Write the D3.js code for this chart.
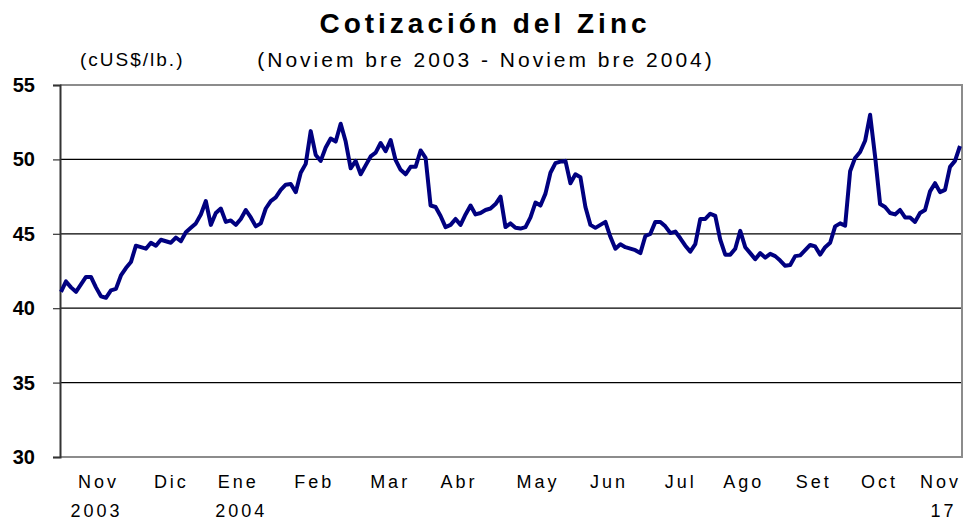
<!DOCTYPE html>
<html>
<head>
<meta charset="utf-8">
<script src="https://cdn.jsdelivr.net/npm/d3@7"></script>
<style>
  body { margin: 0; background: #fff; }
  text { font-family: "Liberation Sans", Arial, sans-serif; fill: #000; }
</style>
</head>
<body>
<svg id="chart" width="966" height="520"></svg>
<script>
// Zinc price, cUS$/lb, Nov 2003 - Nov 17 2004
var zinc = [
  41.1, 41.8, 41.4, 41.1, 41.6, 42.1, 42.1, 41.4, 40.8, 40.7,
  41.2, 41.3, 42.2, 42.7, 43.1, 44.2, 44.1, 44.0, 44.4, 44.2,
  44.6, 44.5, 44.4, 44.75, 44.5, 45.1, 45.4, 45.7, 46.3, 47.2,
  45.6, 46.4, 46.7, 45.8, 45.9, 45.6, 46.0, 46.6, 46.1, 45.5,
  45.7, 46.7, 47.2, 47.45, 47.95, 48.3, 48.35, 47.8, 49.1, 49.7,
  51.9, 50.3, 49.9, 50.8, 51.4, 51.2, 52.4, 51.2, 49.4, 49.9,
  49.0, 49.6, 50.2, 50.45, 51.1, 50.55, 51.3, 49.95, 49.3, 49.0,
  49.5, 49.5, 50.6, 50.1, 46.9, 46.8, 46.2, 45.45, 45.6, 46.0,
  45.6, 46.3, 46.9, 46.3, 46.4, 46.6, 46.7, 47.0, 47.5, 45.45,
  45.7, 45.4, 45.35, 45.45, 46.1, 47.1, 46.9, 47.7, 49.1, 49.75,
  49.85, 49.9, 48.4, 49.0, 48.8, 46.8, 45.6, 45.4, 45.6, 45.8,
  44.8, 44.0, 44.3, 44.1, 44.0, 43.9, 43.7, 44.85, 45.0, 45.8,
  45.8, 45.5, 45.05, 45.15, 44.7, 44.2, 43.8, 44.3, 46.0, 46.0,
  46.35, 46.2, 44.6, 43.6, 43.6, 44.0, 45.2, 44.1, 43.7, 43.3,
  43.7, 43.4, 43.65, 43.5, 43.2, 42.85, 42.9, 43.5, 43.55, 43.9,
  44.25, 44.15, 43.6, 44.1, 44.4, 45.5, 45.7, 45.55, 49.2, 50.1,
  50.5, 51.25, 53.0, 50.2, 47.0, 46.8, 46.4, 46.3, 46.6, 46.1,
  46.1, 45.8, 46.4, 46.6, 47.85, 48.4, 47.8, 47.95, 49.5, 49.9,
  50.9
];

// month labels and where they sit along the series (sample index)
var months   = ["Nov", "Dic", "Ene", "Feb", "Mar", "Abr", "May", "Jun", "Jul", "Ago", "Set", "Oct", "Nov"];
var monthPos = [7.2, 21.8, 35.2, 50.4, 65.6, 79.4, 95.2, 109.4, 123.8, 136.4, 150.4, 163.6, 175.8];
var subLabels = ["2003", "2004", "17"];
var subPos    = [6.8, 35.8, 176.4];
var yTicks = [30, 35, 40, 45, 50, 55];

(function() {
  var svg = d3.select("#chart"),
      mLeft = 60, mRight = 962, mTop = 85, mBottom = 457;

  var x = d3.scaleLinear().domain([0, zinc.length - 1]).range([61, 960]);
  var y = d3.scaleLinear().domain([30, 55]).range([mBottom, mTop]);

  // title block
  svg.append("text")
    .attr("x", 485).attr("y", 33)
    .attr("text-anchor", "middle")
    .style("font-size", "28px").style("font-weight", "bold")
    .style("letter-spacing", "4px")
    .text("Cotización del Zinc");

  svg.append("text")
    .attr("x", 486).attr("y", 67)
    .attr("text-anchor", "middle")
    .style("font-size", "21px").style("letter-spacing", "3px")
    .text("(Noviem bre 2003 - Noviem bre 2004)");

  svg.append("text")
    .attr("x", 80).attr("y", 66)
    .style("font-size", "19px").style("letter-spacing", "2px")
    .text("(cUS$/lb.)");

  // gridlines
  svg.append("g")
    .selectAll("line")
    .data(yTicks.filter(function(d){ return d > 30 && d < 55 }))
    .enter()
    .append("line")
      .attr("x1", mLeft).attr("x2", mRight)
      .attr("y1", function(d){ return y(d) }).attr("y2", function(d){ return y(d) })
      .attr("stroke", "#000").attr("stroke-width", 1.2);

  // plot frame (top, right, bottom in gray)
  svg.append("path")
    .attr("d", "M" + mLeft + "," + mTop + "H" + mRight + "V" + mBottom + "H" + mLeft)
    .attr("fill", "none").attr("stroke", "#8c8c8c").attr("stroke-width", 2);

  // y axis
  var yAxis = svg.append("g")
    .attr("transform", "translate(" + mLeft + ",0)")
    .call(d3.axisLeft(y).tickValues(yTicks).tickSize(7).tickPadding(18));
  yAxis.select(".domain").attr("stroke", "#333").attr("stroke-width", 2);
  yAxis.selectAll(".tick line").attr("stroke", "#333").attr("stroke-width", 1.2);
  yAxis.selectAll(".tick text")
    .style("font-size", "20px").style("font-weight", "bold")
    .style("font-family", '"Liberation Sans", Arial, sans-serif')
    .attr("fill", "#000");

  // x labels
  svg.append("g")
    .selectAll("text")
    .data(months)
    .enter()
    .append("text")
      .attr("x", function(d, i){ return x(monthPos[i]) + 1.5 })
      .attr("y", 488)
      .attr("text-anchor", "middle")
      .style("font-size", "18px").style("letter-spacing", "3px")
      .text(function(d){ return d });

  svg.append("g")
    .selectAll("text")
    .data(subLabels)
    .enter()
    .append("text")
      .attr("x", function(d, i){ return x(subPos[i]) + 1.5 })
      .attr("y", 517)
      .attr("text-anchor", "middle")
      .style("font-size", "18px").style("letter-spacing", "3px")
      .text(function(d){ return d });

  // the price line
  var line = d3.line()
    .x(function(d, i){ return x(i) })
    .y(function(d){ return y(d) });

  svg.append("path")
    .datum(zinc)
    .attr("d", line)
    .attr("fill", "none")
    .attr("stroke", "#000080")
    .attr("stroke-width", 4)
    .attr("stroke-linejoin", "round");
})();
</script>
</body>
</html>
